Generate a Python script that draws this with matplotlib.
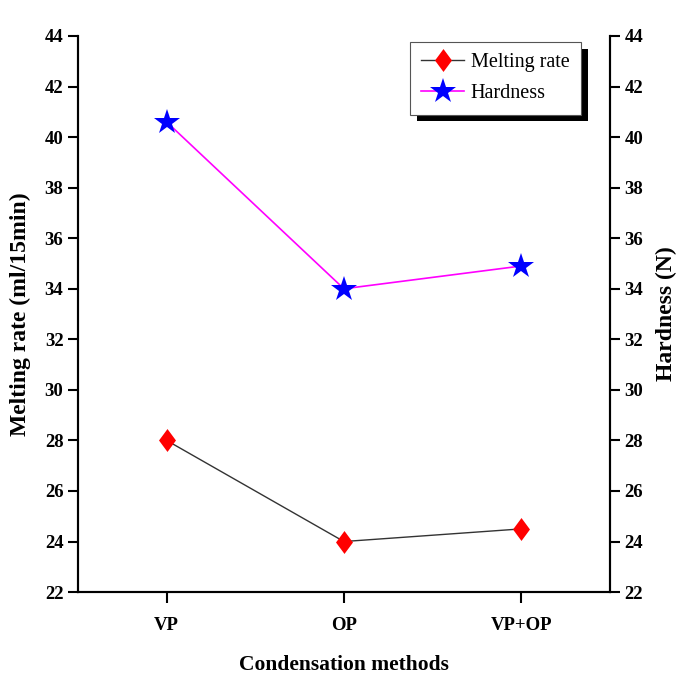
import matplotlib
matplotlib.use("Agg")
import matplotlib.pyplot as plt
import matplotlib.patheffects as pe
import numpy as np

methods = ["VP", "OP", "VP+OP"]
melting_rate = [28.0, 24.0, 24.5]
hardness = [40.6, 34.0, 34.9]
yticks = [22, 24, 26, 28, 30, 32, 34, 36, 38, 40, 42, 44]

plt.rcParams['font.family'] = ['Liberation Serif', 'DejaVu Serif']

fig = plt.figure(figsize=(6.81, 6.79), dpi=100)
ax = fig.add_axes([0.1145, 0.128, 0.781, 0.819])
ax2 = ax.twinx()

x = np.arange(len(methods))
diamond = [(0, 1), (0.74, 0), (0, -1), (-0.74, 0), (0, 1)]

l1, = ax.plot(x, melting_rate, color='#333333', lw=1.0, marker=diamond,
              ms=16.5, mfc='red', mec='red', mew=0, label='Melting rate')
l2, = ax2.plot(x, hardness, color='#ff00ff', lw=1.2, marker='*',
               ms=19, mfc='blue', mec='blue', mew=0, label='Hardness')

for a in (ax, ax2):
    a.set_ylim(22, 44)
    a.set_yticks(yticks)
    a.spines['top'].set_visible(False)
    for s in ('left', 'right', 'bottom'):
        a.spines[s].set_linewidth(1.5)
    a.tick_params(axis='y', length=7, width=1.5, labelsize=13.5, direction='out')
    for lab in a.get_yticklabels():
        lab.set_fontweight('bold')

ax.set_xlim(-0.5, 2.5)
ax.set_xticks(x)
ax.set_xticklabels(methods, fontweight='bold')
ax.tick_params(axis='x', length=8, width=1.5, labelsize=13.5, pad=10)

ax.set_xlabel("Condensation methods", fontsize=15.5, fontweight='bold', labelpad=15)
ax.set_ylabel("Melting rate (ml/15min)", fontsize=17, fontweight='bold', labelpad=10)
ax2.set_ylabel("Hardness (N)", fontsize=17, fontweight='bold', labelpad=9)

leg = ax2.legend(handles=[l1, l2], loc='upper right', bbox_to_anchor=(0.945, 0.989),
                 borderaxespad=0, fontsize=14.5, fancybox=False, framealpha=1,
                 edgecolor='#555555', handlelength=2.1, handletextpad=0.35,
                 borderpad=0.55, labelspacing=0.6)
leg.get_frame().set_linewidth(0.8)
leg.get_frame().set_path_effects([
    pe.SimplePatchShadow(offset=(5, -5), shadow_rgbFace='black', alpha=1.0),
    pe.Normal()])

fig.savefig("out.png", dpi=100)
